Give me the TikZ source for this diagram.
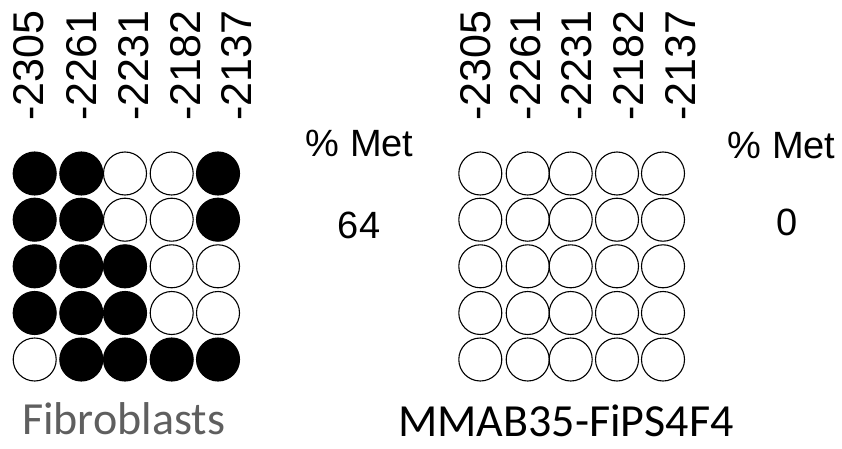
\documentclass[tikz,border=0pt]{standalone}
\usepackage{fontspec}
\setmainfont{Liberation Sans}
\newfontfamily\celllabelfont{Carlito}
\definecolor{labelgray}{HTML}{5F5F5F}

\begin{document}
\begin{tikzpicture}[x=1pt,y=-1pt,
                    site/.style={circle,draw,line width=1.1pt,minimum size=43pt,inner sep=0pt},
                    met/.style={site,fill=black},
                    unmet/.style={site,fill=white},
                    pos label/.style={rotate=90,anchor=base west,inner sep=0pt,
                                      font=\fontsize{43}{43}\selectfont},
                    big text/.style={anchor=base,inner sep=0pt,font=\fontsize{38}{38}\selectfont},
                    cell name/.style={anchor=base west,inner sep=0pt,font=\celllabelfont}]
  \useasboundingbox (0,0) rectangle (842,449);

  % positions (left and right)
  \foreach \c/\x/\t in {1/43/-2305,2/96.5/-2261,3/148/-2231,4/200/-2182,5/251.5/-2137}
    \node[pos label] (fpos\c) at (\x,121) {\t};
  \foreach \c/\x/\t in {1/490/-2305,2/540/-2261,3/591.5/-2231,4/643/-2182,5/695/-2137}
    \node[pos label] (mpos\c) at (\x,121) {\t};

  % Fibroblasts
  \foreach \c/\x/\s in {1/34.7/met,2/81.3/met,3/125/unmet,4/171.7/unmet,5/218/met}
    \node[\s] (f1\c) at (\x,173.5) {};
  \foreach \c/\x/\s in {1/34.7/met,2/81.3/met,3/125/unmet,4/171.7/unmet,5/218/met}
    \node[\s] (f2\c) at (\x,219.7) {};
  \foreach \c/\x/\s in {1/34.7/met,2/81.3/met,3/125/met,4/171.7/unmet,5/218/unmet}
    \node[\s] (f3\c) at (\x,266.3) {};
  \foreach \c/\x/\s in {1/34.7/met,2/81.3/met,3/125/met,4/171.7/unmet,5/218/unmet}
    \node[\s] (f4\c) at (\x,313) {};
  \foreach \c/\x/\s in {1/34.7/unmet,2/81.3/met,3/125/met,4/171.7/met,5/218/met}
    \node[\s] (f5\c) at (\x,359.5) {};

  % MMAB35-FiPS4F4
  \foreach \r/\y in {1/173.5,2/219.7,3/266.3,4/313,5/359.5}
    \foreach \c/\x in {1/480.3,2/527.7,3/570.7,4/617,5/663}
      \node[unmet] (m\r\c) at (\x,\y) {};

  \node[big text] (fmet) at (359.7,157) {\% Met};
  \node[big text] (fval) at (359,238) {64};
  \node[big text] (mmet) at (781.7,158) {\% Met};
  \node[big text] (mval) at (787.5,235) {0};

  \node[cell name,text=labelgray,font=\celllabelfont\fontsize{46}{46}\selectfont]
    (fname) at (22,434) {Fibroblasts};
  \node[cell name,font=\celllabelfont\fontsize{46}{46}\selectfont]
    (mname) at (398,436) {MMAB35-FiPS4F4};
\end{tikzpicture}
\end{document}
